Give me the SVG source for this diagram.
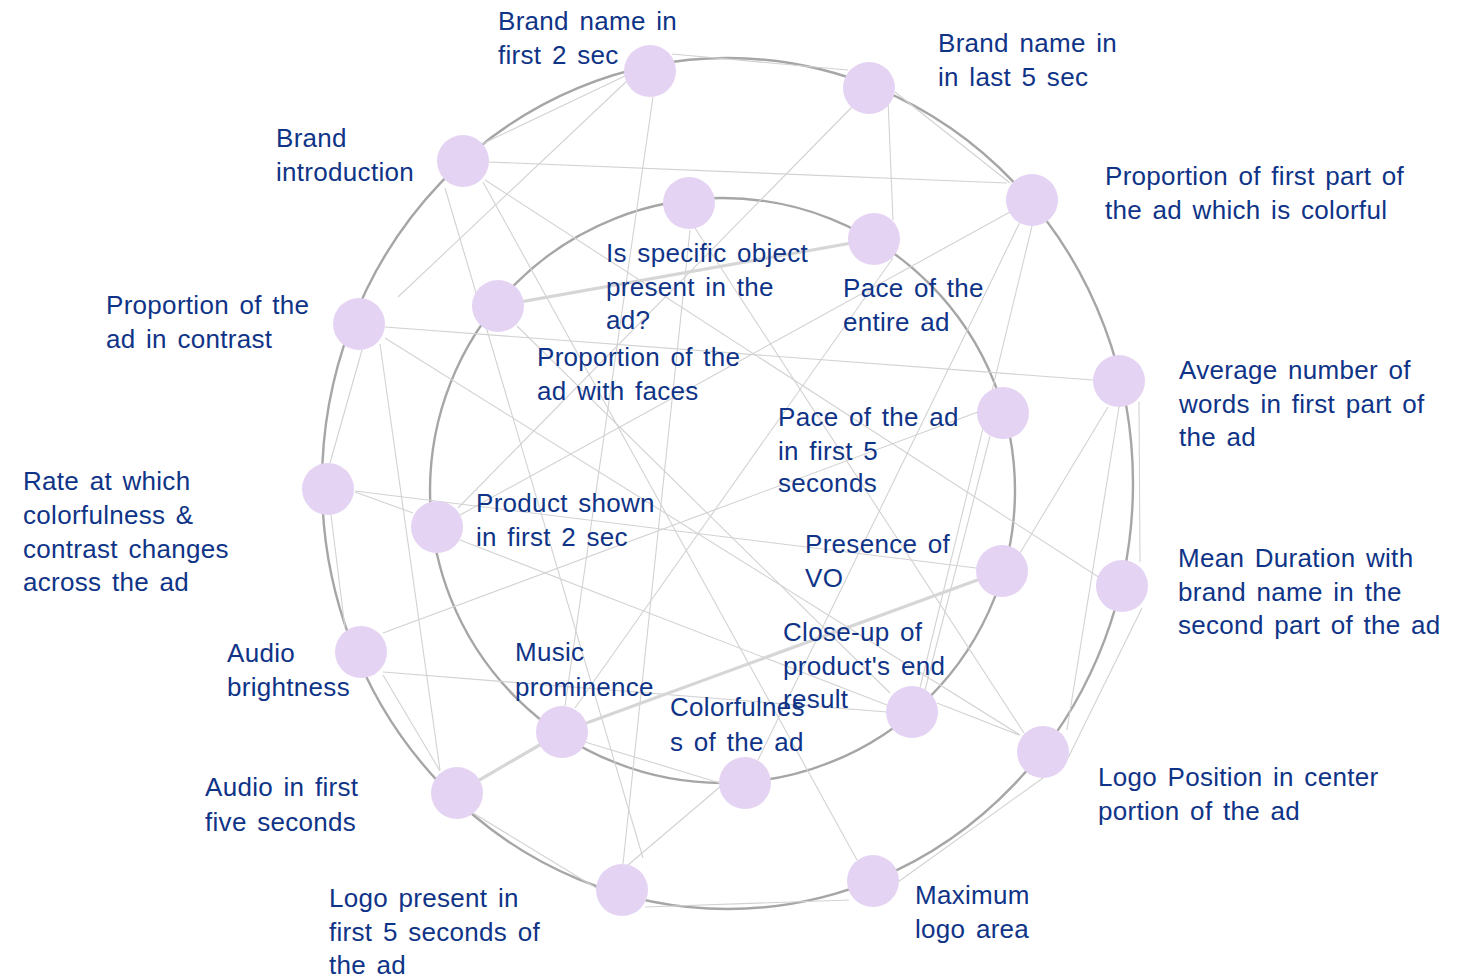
<svg xmlns="http://www.w3.org/2000/svg" width="1461" height="978" viewBox="0 0 1461 978">
<style>
.ring{fill:none;stroke:#a6a6a6;stroke-width:2.4}
.e{stroke:#d2d2d2;stroke-width:1.1;fill:none}
.t{stroke:#d6d6d6;stroke-width:3.2;fill:none}
.n{fill:#e5d3f3}
text{font-family:"Liberation Sans",Arial,sans-serif;font-size:26px;fill:#0f3487;word-spacing:3px;letter-spacing:0.3px}
</style>
<rect width="1461" height="978" fill="#ffffff"/>
<ellipse class="ring" cx="727.5" cy="483.5" rx="405.5" ry="425.5"/>
<ellipse class="ring" cx="722.5" cy="490.5" rx="292.5" ry="292.5"/>
<g id="connectors">
<line class="e" x1="672" y1="54" x2="848" y2="70"/>
<line class="e" x1="625" y1="76" x2="482" y2="144"/>
<line class="e" x1="628" y1="80" x2="398" y2="297"/>
<line class="e" x1="653" y1="97" x2="565" y2="706"/>
<line class="e" x1="895" y1="92" x2="1010" y2="183"/>
<line class="e" x1="852" y1="107" x2="458" y2="508"/>
<line class="e" x1="888" y1="100" x2="893" y2="220"/>
<line class="e" x1="488" y1="162" x2="1007" y2="183"/>
<line class="e" x1="485" y1="180" x2="1100" y2="578"/>
<line class="e" x1="483" y1="182" x2="857" y2="860"/>
<line class="e" x1="445" y1="188" x2="643" y2="858"/>
<line class="e" x1="1010" y1="212" x2="460" y2="515"/>
<line class="e" x1="1020" y1="222" x2="758" y2="760"/>
<line class="e" x1="1032" y1="226" x2="920" y2="688"/>
<line class="e" x1="385" y1="327" x2="1093" y2="380"/>
<line class="e" x1="385" y1="338" x2="1020" y2="735"/>
<line class="e" x1="362" y1="350" x2="330" y2="463"/>
<line class="e" x1="380" y1="344" x2="440" y2="770"/>
<line class="e" x1="355" y1="492" x2="413" y2="513"/>
<line class="e" x1="355" y1="491" x2="976" y2="568"/>
<line class="e" x1="331" y1="515" x2="345" y2="628"/>
<line class="e" x1="383" y1="633" x2="978" y2="412"/>
<line class="e" x1="383" y1="672" x2="887" y2="712"/>
<line class="e" x1="383" y1="675" x2="440" y2="771"/>
<line class="e" x1="473" y1="813" x2="598" y2="889"/>
<line class="e" x1="645" y1="907" x2="849" y2="900"/>
<line class="e" x1="628" y1="865" x2="721" y2="786"/>
<line class="e" x1="623" y1="864" x2="690" y2="230"/>
<line class="e" x1="893" y1="258" x2="575" y2="708"/>
<line class="e" x1="585" y1="742" x2="720" y2="783"/>
<line class="e" x1="695" y1="228" x2="1024" y2="733"/>
<line class="e" x1="937" y1="703" x2="1019" y2="735"/>
<line class="e" x1="460" y1="540" x2="887" y2="705"/>
<line class="e" x1="1108" y1="407" x2="1020" y2="553"/>
<line class="e" x1="1119" y1="407" x2="1067" y2="730"/>
<line class="e" x1="1139" y1="402" x2="1140" y2="562"/>
<line class="e" x1="1142" y1="608" x2="1068" y2="758"/>
<line class="e" x1="990" y1="436" x2="925" y2="690"/>
<line class="e" x1="517" y1="326" x2="890" y2="693"/>
<line class="e" x1="1043" y1="778" x2="898" y2="882"/>
<line class="t" x1="457" y1="793" x2="562" y2="732"/>
<line class="t" x1="562" y1="732" x2="1002" y2="571"/>
<line class="t" x1="498" y1="306" x2="874" y2="239"/>
</g>
<g id="n-brand-first2"><circle class="n" cx="650" cy="71" r="26"/><text x="498" y="30">Brand name in</text><text x="498" y="64">first 2 sec</text></g>
<g id="n-brand-last5"><circle class="n" cx="869" cy="88" r="26"/><text x="938" y="52">Brand name in</text><text x="938" y="86">in last 5 sec</text></g>
<g id="n-first-colorful"><circle class="n" cx="1032" cy="200" r="26"/><text x="1105" y="185">Proportion of first part of</text><text x="1105" y="219">the ad which is colorful</text></g>
<g id="n-avg-words"><circle class="n" cx="1119" cy="381" r="26"/><text x="1179" y="379">Average number of</text><text x="1179" y="413">words in first part of</text><text x="1179" y="446">the ad</text></g>
<g id="n-mean-duration"><circle class="n" cx="1122" cy="586" r="26"/><text x="1178" y="567">Mean Duration with</text><text x="1178" y="601">brand name in the</text><text x="1178" y="634">second part of the ad</text></g>
<g id="n-logo-position"><circle class="n" cx="1043" cy="752" r="26"/><text x="1098" y="786">Logo Position in center</text><text x="1098" y="820">portion of the ad</text></g>
<g id="n-max-logo"><circle class="n" cx="873" cy="881" r="26"/><text x="915" y="904">Maximum</text><text x="915" y="938">logo area</text></g>
<g id="n-logo-present"><circle class="n" cx="622" cy="890" r="26"/><text x="329" y="907">Logo present in</text><text x="329" y="941">first 5 seconds of</text><text x="329" y="974">the ad</text></g>
<g id="n-audio-first5"><circle class="n" cx="457" cy="793" r="26"/><text x="205" y="796">Audio in first</text><text x="205" y="831">five seconds</text></g>
<g id="n-audio-brightness"><circle class="n" cx="361" cy="652" r="26"/><text x="227" y="662">Audio</text><text x="227" y="696">brightness</text></g>
<g id="n-rate"><circle class="n" cx="328" cy="489" r="26"/><text x="23" y="490">Rate at which</text><text x="23" y="524">colorfulness &amp;</text><text x="23" y="558">contrast changes</text><text x="23" y="591">across the ad</text></g>
<g id="n-contrast"><circle class="n" cx="359" cy="324" r="26"/><text x="106" y="314">Proportion of the</text><text x="106" y="348">ad in contrast</text></g>
<g id="n-brand-intro"><circle class="n" cx="463" cy="161" r="26"/><text x="276" y="147">Brand</text><text x="276" y="181">introduction</text></g>
<g id="n-specific-object"><circle class="n" cx="689" cy="203" r="26"/><text x="606" y="262">Is specific object</text><text x="606" y="296">present in the</text><text x="606" y="329">ad?</text></g>
<g id="n-pace-entire"><circle class="n" cx="874" cy="239" r="26"/><text x="843" y="297">Pace of the</text><text x="843" y="331">entire ad</text></g>
<g id="n-pace-first5"><circle class="n" cx="1003" cy="413" r="26"/><text x="778" y="426">Pace of the ad</text><text x="778" y="460">in first 5</text><text x="778" y="492">seconds</text></g>
<g id="n-vo"><circle class="n" cx="1002" cy="571" r="26"/><text x="805" y="553">Presence of</text><text x="805" y="587">VO</text></g>
<g id="n-closeup"><circle class="n" cx="912" cy="712" r="26"/><text x="783" y="641">Close-up of</text><text x="783" y="675">product's end</text><text x="783" y="708">result</text></g>
<g id="n-colorfulness"><circle class="n" cx="745" cy="783" r="26"/><text x="670" y="716">Colorfulnes</text><text x="670" y="751">s of the ad</text></g>
<g id="n-music"><circle class="n" cx="562" cy="732" r="26"/><text x="515" y="661">Music</text><text x="515" y="696">prominence</text></g>
<g id="n-product-2sec"><circle class="n" cx="437" cy="527" r="26"/><text x="476" y="512">Product shown</text><text x="476" y="546">in first 2 sec</text></g>
<g id="n-faces"><circle class="n" cx="498" cy="306" r="26"/><text x="537" y="366">Proportion of the</text><text x="537" y="400">ad with faces</text></g>
</svg>
